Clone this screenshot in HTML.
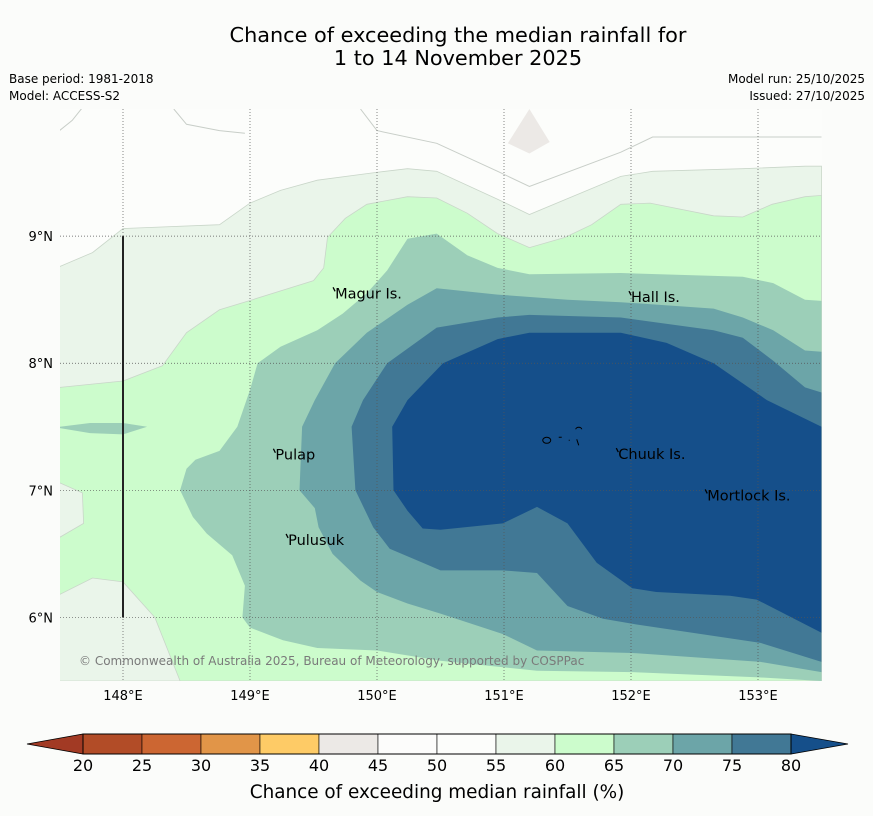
<!DOCTYPE html>
<html><head><meta charset="utf-8">
<style>
html,body{margin:0;padding:0;background:#fbfcfa;}
svg{display:block;font-family:"Liberation Sans","DejaVu Sans",sans-serif;}
</style></head>
<body>
<svg id="chart" width="873" height="816" viewBox="0 0 873 816">
<rect width="873" height="816" fill="#fbfcfa"/>
<text x="458" y="42" text-anchor="middle" font-size="20.8" fill="#000" font-family="DejaVu Sans, sans-serif">Chance of exceeding the median rainfall for</text>
<text x="458" y="65" text-anchor="middle" font-size="20.8" fill="#000" font-family="DejaVu Sans, sans-serif">1 to 14 November 2025</text>
<text x="9" y="83" font-size="12" fill="#000" font-family="DejaVu Sans, sans-serif">Base period: 1981-2018</text>
<text x="9" y="100" font-size="12" fill="#000" font-family="DejaVu Sans, sans-serif">Model: ACCESS-S2</text>
<text x="865" y="83" text-anchor="end" font-size="12" fill="#000" font-family="DejaVu Sans, sans-serif">Model run: 25/10/2025</text>
<text x="865" y="100" text-anchor="end" font-size="12" fill="#000" font-family="DejaVu Sans, sans-serif">Issued: 27/10/2025</text>
<defs><clipPath id="mapclip"><rect x="60" y="109" width="762" height="572"/></clipPath></defs>
<g id="map" clip-path="url(#mapclip)"></g>
<g id="overlay"></g>
<g id="cbar"></g>
</svg>
<script>
// ---- map extent ----
const lonMin = 147.5, lonMax = 153.5, latMin = 5.5, latMax = 10.0;
const lonTicks = [148, 149, 150, 151, 152, 153];
const latTicks = [6, 7, 8, 9];
const lonTickLabels = ["148°E", "149°E", "150°E", "151°E", "152°E", "153°E"];
const latTickLabels = ["6°N", "7°N", "8°N", "9°N"];
// ---- contour levels (filled, painter's order) ----
const levelNames = ["55-60", "60-65", "65-70", "70-75", "75-80", "80+"];
const levelColors = ["#eaf5ea", "#ccfccc", "#9ccfb8", "#6ca5a8", "#417895", "#154f8a"];
const level55 = [[147.5,8.76],[147.76,8.87],[148.0,9.06],[148.76,9.09],[149.0,9.26],[149.24,9.36],[149.53,9.44],[149.98,9.50],[150.24,9.53],[150.47,9.51],[150.95,9.29],[151.2,9.17],[151.92,9.47],[152.17,9.51],[152.88,9.53],[153.37,9.55],[153.5,9.55],[153.5,5.5],[147.5,5.5]];
const level60 = [[147.5,7.81],[148.0,7.86],[148.31,7.98],[148.5,8.24],[148.76,8.42],[149.02,8.50],[149.5,8.65],[149.58,8.75],[149.61,8.99],[149.75,9.14],[149.92,9.25],[150.24,9.31],[150.47,9.30],[150.71,9.18],[150.95,9.02],[151.2,8.91],[151.48,8.99],[151.69,9.09],[151.92,9.25],[152.15,9.26],[152.65,9.16],[152.88,9.15],[153.11,9.25],[153.37,9.31],[153.5,9.32],[153.5,5.5],[148.45,5.5],[148.25,6.0],[148.0,6.28],[147.76,6.31],[147.5,6.18],[147.5,6.63],[147.69,6.74],[147.68,6.98],[147.5,7.06]];
const level65 = [[149.06,8.0],[149.24,8.13],[149.53,8.26],[149.73,8.39],[149.92,8.55],[150.08,8.73],[150.24,8.98],[150.47,9.02],[150.71,8.85],[150.95,8.75],[151.2,8.70],[151.92,8.71],[152.88,8.68],[153.12,8.63],[153.37,8.50],[153.5,8.49],[153.5,5.5],[152.99,5.53],[152.01,5.57],[151.26,5.58],[150.5,5.66],[150.0,5.74],[149.53,5.76],[149.26,5.82],[149.0,5.92],[148.94,6.0],[148.96,6.25],[148.86,6.49],[148.66,6.66],[148.55,6.79],[148.45,7.0],[148.5,7.17],[148.57,7.24],[148.76,7.31],[148.9,7.50],[149.0,7.79]];
const level65blob = [[147.5,7.50],[147.74,7.53],[148.0,7.53],[148.19,7.50],[148.0,7.44],[147.74,7.45],[147.5,7.49]];
const level70 = [[149.51,7.71],[149.67,8.0],[149.92,8.24],[150.24,8.46],[150.47,8.59],[150.95,8.54],[151.5,8.50],[151.92,8.48],[152.65,8.43],[152.88,8.36],[153.12,8.26],[153.37,8.10],[153.5,8.09],[153.5,5.57],[153.02,5.65],[152.01,5.72],[151.26,5.74],[150.99,5.87],[150.5,6.03],[150.24,6.11],[150.0,6.20],[149.87,6.29],[149.65,6.50],[149.54,6.71],[149.51,6.86],[149.39,7.0],[149.41,7.50]];
const level75 = [[149.89,7.71],[150.08,8.0],[150.47,8.28],[150.95,8.36],[151.2,8.38],[151.92,8.36],[152.65,8.26],[152.88,8.20],[153.12,8.02],[153.37,7.81],[153.5,7.77],[153.5,5.65],[153.02,5.80],[152.01,5.95],[151.78,5.99],[151.5,6.09],[151.26,6.35],[150.99,6.37],[150.5,6.37],[150.36,6.43],[150.1,6.54],[149.97,6.71],[149.83,7.0],[149.8,7.50]];
const level80 = [[150.24,7.71],[150.52,8.0],[150.95,8.19],[151.2,8.24],[151.92,8.24],[152.28,8.16],[152.65,8.0],[153.07,7.71],[153.5,7.50],[153.5,5.88],[152.99,6.14],[152.78,6.17],[152.2,6.20],[152.01,6.23],[151.73,6.43],[151.5,6.74],[151.26,6.87],[150.99,6.74],[150.5,6.69],[150.36,6.70],[150.24,6.84],[150.13,7.0],[150.12,7.50]];
const levelPolys = [level55, level60, level65, level70, level75, level80];
// 50% contour lines in the white area and small 40-45 patch
const line50a = [[147.5,9.83],[147.6,9.91],[147.76,10.11],[148.0,10.22],[148.3,10.26],[148.5,10.31],[148.76,10.40],[148.96,10.42]];
const line50b = [[148.40,10.0],[148.5,9.88],[148.76,9.83],[148.96,9.81]];
const line50c = [[149.87,10.0],[150.0,9.83],[150.47,9.73],[150.95,9.51],[151.2,9.39],[151.92,9.66],[152.17,9.78],[153.37,9.78],[153.5,9.78]];
const patch40 = [[151.03,9.73],[151.2,10.0],[151.36,9.74],[151.2,9.65]];
// islands
const islandNames = ["Magur Is.", "Hall Is.", "Pulap", "Pulusuk", "Chuuk Is.", "Mortlock Is."];
const islandLon = [149.67, 152.0, 149.2, 149.3, 151.9, 152.6];
const islandLat = [8.55, 8.52, 7.28, 6.61, 7.285, 6.96];
// colorbar
const cbarTicks = [20,25,30,35,40,45,50,55,60,65,70,75,80];
const cbarColors = ["#b24c27","#cc6632","#e19548","#fecb66","#ece9e6","#fcfcfb","#fcfdfb","#eaf5ea","#ccfccc","#9ccfb8","#6ca5a8","#417895"];
const cbarLowColor = "#a23a24", cbarHighColor = "#154f8a";

const NS = "http://www.w3.org/2000/svg";
const X0 = 59.5, X1 = 821.5, Y0 = 681, Y1 = 109;
function xScale(lon){ return X0 + (lon - lonMin) / (lonMax - lonMin) * (X1 - X0); }
function yScale(lat){ return Y0 - (lat - latMin) / (latMax - latMin) * (Y0 - Y1); }
function pts(arr){ return arr.map(p => xScale(p[0]).toFixed(1) + "," + yScale(p[1]).toFixed(1)).join(" "); }
function mk(tag, attrs, parent){ const e = document.createElementNS(NS, tag); for (const k in attrs) e.setAttribute(k, attrs[k]); parent.appendChild(e); return e; }

const map = document.getElementById("map");
const ov = document.getElementById("overlay");
const bg = mk("rect", {x:60, y:109, width:762, height:572, fill:"#fcfdfb"}, map);


levelPolys.forEach((poly, i) => {
  const p = mk("polygon", {points: pts(poly), fill: levelColors[i], stroke: i < 2 ? "#c9d6c9" : "none", "stroke-width": 0.8}, map);
  
  
  if (i === 2) {
    const b = mk("polygon", {points: pts(level65blob), fill: levelColors[2]}, map);
    
    
  }
});
[line50a, line50b, line50c].forEach((l, i) => {
  const e = mk("polyline", {points: pts(l), fill: "none", stroke: "#c8cec8", "stroke-width": 1}, map);
  
  
});
const pt40 = mk("polygon", {points: pts(patch40), fill: "#ece9e6"}, map);



// gridlines
lonTicks.forEach((lon, i) => {
  const x = xScale(lon);
  const g = mk("line", {x1:x, x2:x, y1:109, y2:681, stroke:"#555", "stroke-width":0.7, "stroke-dasharray":"1,2"}, ov);
  
  
  const t = mk("text", {x:x, y:700, "text-anchor":"middle", "font-size":13, fill:"#000", "font-family":"DejaVu Sans, sans-serif"}, ov);
  t.textContent = lonTickLabels[i];
  
  
});
latTicks.forEach((lat, i) => {
  const y = yScale(lat);
  const g = mk("line", {x1:60, x2:822, y1:y, y2:y, stroke:"#555", "stroke-width":0.7, "stroke-dasharray":"1,2"}, ov);
  
  
  const t = mk("text", {x:53, y:y+5, "text-anchor":"end", "font-size":13, fill:"#000", "font-family":"DejaVu Sans, sans-serif"}, ov);
  t.textContent = latTickLabels[i];
  
  
});
// black meridian segment
const bl = mk("line", {x1:xScale(148), x2:xScale(148), y1:yScale(9), y2:yScale(6), stroke:"#222", "stroke-width":2}, ov);



// islands
islandNames.forEach((n, i) => {
  const x = xScale(islandLon[i]), y = yScale(islandLat[i]);
  const m = mk("path", {d:"M"+(x-2)+","+(y-6)+" l2,4", stroke:"#000", "stroke-width":1.3, fill:"none"}, ov);
  
  
  const t = mk("text", {x:x, y:y+5, "font-size":14.5, fill:"#000", "font-family":"DejaVu Sans, sans-serif"}, ov);
  t.textContent = n;
  
  
});
// chuuk atoll shapes
const chx = xScale(151.62), chy = yScale(7.37);
const ch = mk("path", {d:"M"+(chx-40)+","+(chy-3)+" a4,3 0 1,1 8,0 a4,3 0 1,1 -8,0 M"+(chx-24)+","+(chy-6)+" h3 M"+(chx-14)+","+(chy-3)+" h1 M"+(chx-7)+","+(chy-14)+" a3,2 0 1,1 6,0 M"+(chx-6)+","+(chy-4)+" l2,6", stroke:"#000", "stroke-width":1, fill:"none"}, ov);



const cp = mk("text", {x:79, y:665, "font-size":12, fill:"#7a7a7a", "font-family":"DejaVu Sans, sans-serif"}, ov);
cp.textContent = "© Commonwealth of Australia 2025, Bureau of Meteorology, supported by COSPPac";



// colorbar
const cb = document.getElementById("cbar");
const CB0 = 83, CBW = 59, CBY = 734, CBH = 20;
const la = mk("polygon", {points: "27,744 "+CB0+","+CBY+" "+CB0+","+(CBY+CBH), fill: cbarLowColor, stroke:"#000", "stroke-width":0.8}, cb);


const hx = CB0 + CBW * cbarColors.length;
const ha = mk("polygon", {points: hx+","+CBY+" "+(hx+57)+",744 "+hx+","+(CBY+CBH), fill: cbarHighColor, stroke:"#000", "stroke-width":0.8}, cb);


cbarColors.forEach((c, i) => {
  const r = mk("rect", {x: CB0 + i*CBW, y: CBY, width: CBW, height: CBH, fill: c, stroke:"#000", "stroke-width":0.6}, cb);
  
  
});
const fr = mk("rect", {x: CB0, y: CBY, width: CBW*cbarColors.length, height: CBH, fill:"none", stroke:"#000", "stroke-width":1}, cb);


cbarTicks.forEach((v, i) => {
  const t = mk("text", {x: CB0 + i*CBW, y: 771, "text-anchor":"middle", "font-size":16, fill:"#000", "font-family":"DejaVu Sans, sans-serif"}, cb);
  t.textContent = v;
  
  
});
const ct = mk("text", {x: 437, y: 798, "text-anchor":"middle", "font-size":18.4, fill:"#000", "font-family":"DejaVu Sans, sans-serif"}, cb);
ct.textContent = "Chance of exceeding median rainfall (%)";


</script>
</body></html>
